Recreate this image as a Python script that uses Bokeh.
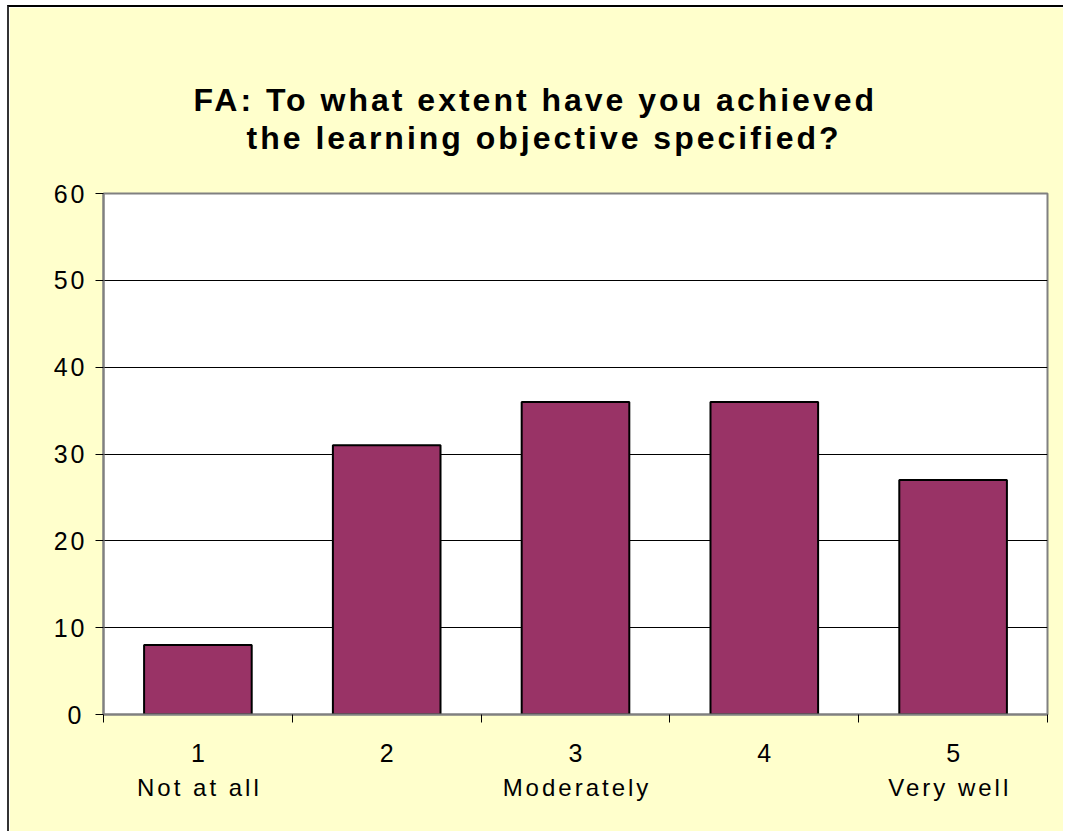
from bokeh.plotting import figure
from bokeh.models import FixedTicker, Range1d, ColumnDataSource, Title, LinearAxis
from bokeh.embed import file_html
from bokeh.resources import INLINE

# Data
categories = [1, 2, 3, 4, 5]
cat_numbers = ["1", "2", "3", "4", "5"]
cat_words = ["Not at all", "", "Moderately", "", "Very  well"]
counts = [8, 31, 36, 36, 27]
y_ticks = [0, 10, 20, 30, 40, 50, 60]
title_line1 = "FA: To what extent have you achieved"
title_line2 = "the learning objective specified?"

FONT = "Liberation Sans"
BG = "#FFFFCC"
SPACING = 3          # px letter spacing applied through CSS
PX_PER_CAT = 188.8   # approx pixels per category (frame width / 5)

p = figure(width=1056, height=826, output_backend="svg", toolbar_location=None,
           title=None,
           x_range=Range1d(0.5, 5.5), y_range=Range1d(0, 60),
           min_border_left=94, min_border_right=18, min_border_top=186, min_border_bottom=119)

p.background_fill_color = "white"
p.border_fill_color = BG
p.outline_line_color = "#808080"
p.outline_line_width = 2
p.styles = {"margin-left": "7px", "margin-top": "5px",
            "border-left": "2px solid #333333", "border-top": "2px solid #000000",
            "letter-spacing": f"{SPACING}px"}

src = ColumnDataSource(dict(x=categories, top=counts))
p.vbar(x="x", top="top", width=0.57, bottom=0, source=src,
       fill_color="#993366", line_color="black", line_width=2)

# Y axis
yax = p.yaxis[0]
yax.ticker = FixedTicker(ticks=y_ticks)
yax.major_label_text_font = FONT
yax.major_label_text_font_size = "25px"
yax.major_label_text_color = "black"
yax.major_tick_out = 8
yax.major_tick_in = 0
yax.minor_tick_line_color = None
yax.axis_line_color = "#808080"
yax.axis_line_width = 2
yax.major_tick_line_color = "black"
yax.major_label_standoff = 14

# X axis: numbers (primary axis)
xax = p.xaxis[0]
boundaries = [c - 0.5 for c in categories] + [categories[-1] + 0.5]
xax.ticker = FixedTicker(ticks=categories, minor_ticks=boundaries)
xax.major_label_overrides = {c: l for c, l in zip(categories, cat_numbers)}
xax.major_label_text_font = FONT
xax.major_label_text_font_size = "25px"
xax.major_label_text_color = "black"
xax.major_tick_out = 0
xax.major_tick_in = 0
xax.minor_tick_out = 8
xax.minor_tick_in = 0
xax.minor_tick_line_color = "black"
xax.axis_line_color = "#808080"
xax.axis_line_width = 2
xax.major_label_standoff = 21

# X axis: words (shifted range compensates for CSS letter spacing offset)
shift = (max(len(w) for w in cat_words) - 1) * SPACING / 2 / PX_PER_CAT
p.extra_x_ranges = {"words": Range1d(0.5 + shift, 5.5 + shift)}
word_ticks = [c for c, w in zip(categories, cat_words) if w]
words_axis = LinearAxis(x_range_name="words", ticker=FixedTicker(ticks=word_ticks),
                        major_label_overrides={c: w for c, w in zip(categories, cat_words) if w},
                        major_label_text_font=FONT, major_label_text_font_size="24px",
                        major_label_text_color="black", major_label_standoff=9,
                        major_tick_out=0, major_tick_in=0,
                        axis_line_color=None, major_tick_line_color=None,
                        minor_tick_line_color=None)
p.add_layout(words_axis, "below")

# Invisible spacer between frame and title (one hidden tick gives it height)
spacer = LinearAxis(ticker=FixedTicker(ticks=categories[:1]), major_tick_out=38, major_tick_in=0,
                    major_label_overrides={categories[0]: ""},
                    major_label_text_font_size="1px", major_label_standoff=0,
                    axis_line_color=None, major_tick_line_color=None,
                    minor_tick_line_color=None)
p.add_layout(spacer, "above")

# Title (two lines)
t2 = Title(text=title_line2, align="left", offset=143, standoff=0,
           text_font=FONT, text_font_size="32px", text_font_style="bold", text_color="black")
t1 = Title(text=title_line1, align="left", offset=90, standoff=0,
           text_font=FONT, text_font_size="32px", text_font_style="bold", text_color="black")
p.add_layout(t2, "above")
p.add_layout(t1, "above")

p.xgrid.grid_line_color = None
p.ygrid.grid_line_color = "black"
p.ygrid.grid_line_width = 1

open("out.html", "w").write(file_html(p, INLINE))
